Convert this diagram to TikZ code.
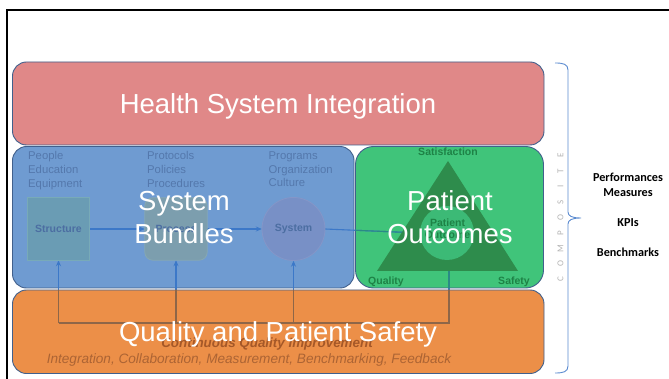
\documentclass[tikz,border=0pt]{standalone}
\usepackage{fontspec}
\setmainfont{Liberation Sans}
\newfontfamily\carl{Carlito}
\usetikzlibrary{arrows.meta}
\definecolor{redbox}{HTML}{E08888}
\definecolor{bluebox}{HTML}{6F9BD1}
\definecolor{greenbox}{HTML}{40C47A}
\definecolor{orangebox}{HTML}{EC8F48}
\definecolor{boxline}{HTML}{41608C}
\definecolor{embtext}{HTML}{5478AC}
\definecolor{emblab}{HTML}{4C6EA2}
\definecolor{embarrow}{HTML}{3C78C8}
\definecolor{structfill}{HTML}{6A9CB4}
\definecolor{structline}{HTML}{78AAB8}
\definecolor{procfill}{HTML}{7C9EAE}
\definecolor{procline}{HTML}{86A8B2}
\definecolor{sysfill}{HTML}{7890C6}
\definecolor{sysline}{HTML}{8496C8}
\definecolor{trifill}{HTML}{2E8C4C}
\definecolor{circfill}{HTML}{3CBA76}
\definecolor{greentext}{HTML}{1E8246}
\definecolor{tealline}{HTML}{2A8A86}
\definecolor{brownline}{HTML}{8E6648}
\definecolor{cqitext}{HTML}{A55828}
\definecolor{itext}{HTML}{AC6434}
\definecolor{bracecol}{HTML}{5B8BD0}
\definecolor{comptext}{HTML}{B4B4B4}
\begin{document}
\begin{tikzpicture}[x=1pt,y=-1pt,
  bigbox/.style={draw=boxline,line width=0.9pt,rounded corners=14pt,inner sep=0pt},
  bigtext/.style={text=white,font=\fontsize{27.5}{33}\selectfont,align=center,inner sep=0pt},
  embtxt/.style={text=embtext,font=\fontsize{11.3}{13.7}\selectfont,align=left,inner sep=0pt,anchor=north west},
  emblabel/.style={font=\bfseries\fontsize{10.5}{12}\selectfont,inner sep=0pt},
  embarr/.style={-{Stealth[length=6pt,width=5pt]},line width=1.1pt},
  righttxt/.style={font=\carl\bfseries\fontsize{12.2}{15}\selectfont,align=center,inner sep=0pt},
  comp/.style={font=\carl\fontsize{9}{9}\selectfont,text=comptext,rotate=90,inner sep=0pt}
]
\useasboundingbox (0,0) rectangle (669,379);
\fill[white] (0,0) rectangle (669,379);
% outer frame
\coordinate (f0) at (7,379);
\coordinate (f1) at (7,10);
\coordinate (f2) at (669,10);
\draw[line width=2.5pt] (f0) -- (f1) -- (f2);

% big boxes
\node[bigbox,fill=redbox,minimum width=531.5pt,minimum height=83pt] (hsi) at (278.25,103.5) {};
\node[bigbox,fill=bluebox,minimum width=341.5pt,minimum height=141.5pt] (bund) at (183.25,217.25) {};
\node[bigbox,fill=greenbox,rounded corners=18pt,minimum width=188pt,minimum height=141.5pt] (outc) at (449.5,217.25) {};
\node[bigbox,fill=orangebox,minimum width=531.5pt,minimum height=83.5pt] (qps) at (278.25,331.75) {};

% embedded model shapes (positions)
\coordinate (structc) at (58.5,229);
\coordinate (procc) at (176,229);
\coordinate (sysc) at (293.5,229);
\coordinate (pcc) at (447,233);
\coordinate (tA) at (448,161);
\coordinate (tB) at (377,271);
\coordinate (tC) at (518,271);
\coordinate (tbot) at (449,271);
\coordinate (fbL) at (58.5,323);
\coordinate (fbR) at (449,323);

% invisible node outlines for connector anchors
\node[minimum size=62pt,inner sep=0pt] (structure) at (structc) {};
\node[minimum size=62pt,inner sep=0pt] (process) at (procc) {};
\node[circle,minimum size=63pt,inner sep=0pt] (system) at (sysc) {};
\node[circle,minimum size=54pt,inner sep=0pt] (pcirc) at (pcc) {};

% connectors (blue everywhere, recoloured by region)
\def\connectors#1{%
  \draw[embarr,#1] (structure.east) -- (process.west);
  \draw[embarr,#1] (process.east) -- (system.west);
  \draw[line width=1.1pt,#1] (system.east) -- (pcirc.west);
  \draw[line width=1.1pt,#1] (tbot) -- (fbR) -- (fbL);
  \draw[embarr,#1] (fbL) -- (structure.south);
  \draw[embarr,#1] (process.south |- fbL) -- (process.south);
  \draw[embarr,#1] (system.south |- fbL) -- (system.south);
}
\connectors{embarrow}
\begin{scope}
  \clip[rounded corners=14pt] (qps.south west) rectangle (qps.north east);
  \connectors{brownline}
\end{scope}
\begin{scope}
  \clip[rounded corners=18pt] (outc.south west) rectangle (outc.north east);
  \connectors{tealline}
\end{scope}

% embedded shapes
\draw[fill=structfill,draw=structline,line width=0.8pt] (structure.south west) rectangle (structure.north east);
\draw[fill=procfill,draw=procline,line width=0.8pt,rounded corners=8pt] (process.south west) rectangle (process.north east);
\draw[fill=sysfill,draw=sysline,line width=0.8pt] (sysc) circle (31.5pt);
\fill[trifill] (tA) -- (tB) -- (tC) -- cycle;
\fill[circfill] (pcc) circle (27pt);

% embedded labels
\node[emblabel,text=emblab] (lstruct) at (structc) {Structure};
\node[emblabel,text=emblab] (lproc) at (procc) {Process};
\node[emblabel,text=emblab] (lsys) at (sysc) {System};
\node[embtxt] (ppl) at (28,151.5) {People\\Education\\Equipment};
\node[embtxt] (prot) at (147,151.5) {Protocols\\Policies\\Procedures};
\node[embtxt] (prog) at (268.5,151.5) {Programs\\Organization\\Culture};
\node[emblabel,text=greentext] (sat) at (448,152) {Satisfaction};
\node[emblabel,text=greentext] (qual) at (386,282) {Quality};
\node[emblabel,text=greentext] (saf) at (514,282) {Safety};
\node[emblabel,text=greentext,align=center,font=\bfseries\fontsize{10.5}{12}\selectfont] (pato) at (447.5,229) {Patient\\Outcome};
\node[text=cqitext,font=\bfseries\itshape\fontsize{13.4}{15}\selectfont,inner sep=0pt,anchor=base] (cqi) at (267,347) {Continuous Quality Improvement};
\node[text=itext,font=\itshape\fontsize{13.6}{15}\selectfont,inner sep=0pt,anchor=base] (icm) at (249,363) {Integration, Collaboration, Measurement, Benchmarking, Feedback};

% white titles
\node[bigtext,anchor=base] (thsi) at (278,113.3) {Health System Integration};
\node[bigtext] (tbund) at (184,218) {System\\Bundles};
\node[bigtext] (toutc) at (450,217.5) {Patient\\Outcomes};
\node[bigtext,anchor=base] (tqps) at (278,341.7) {Quality and Patient Safety};

% brace
\coordinate (b0) at (555,63);
\coordinate (btip) at (581,218);
\coordinate (b1) at (555,373);
\draw[bracecol,line width=0.9pt] (b0) .. controls (563,63) and (568,64) .. (568,70) -- (568,212)
  .. controls (568,216) and (572,218) .. (btip)
  .. controls (572,218) and (568,220) .. (568,224) -- (568,366)
  .. controls (568,372) and (563,373) .. (b1);

% COMPOSITE
\foreach \ch [count=\i] in {C,O,M,P,O,S,I,T,E}
  \node[comp] (cmp\i) at (560.5,{279-(\i-1)*15.4}) {\ch};

% right texts
\node[righttxt] (perf) at (628,184.5) {Performances\\Measures};
\node[righttxt] (kpi) at (628,222.5) {KPIs};
\node[righttxt] (bench) at (628,252) {Benchmarks};
\end{tikzpicture}
\end{document}
